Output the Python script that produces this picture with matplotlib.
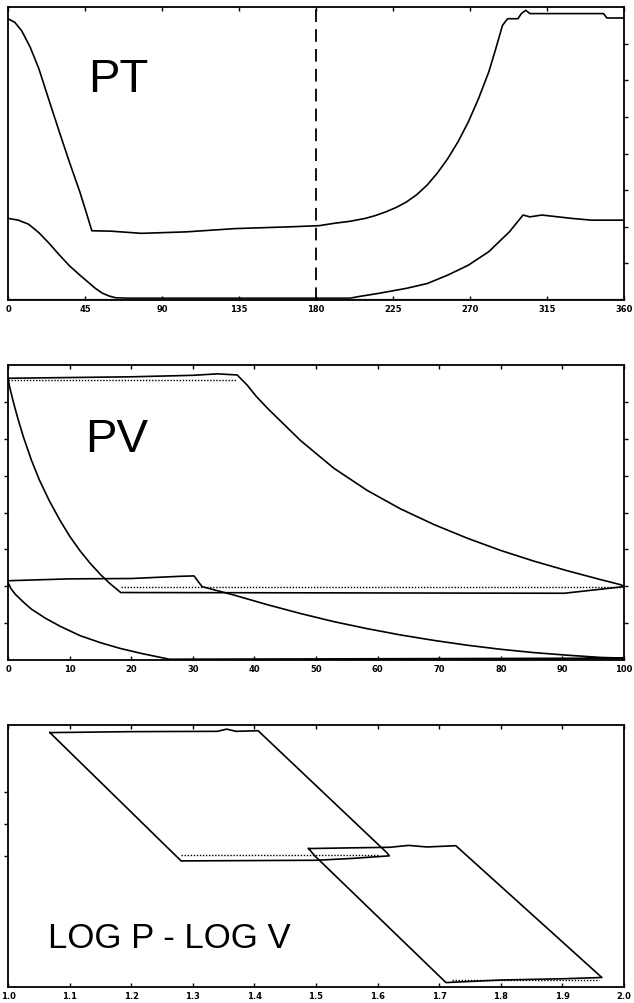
import matplotlib
matplotlib.use("Agg")
import matplotlib.pyplot as plt

# ---------------- data ----------------
# Panel 1: PT (crank angle vs value)
pt_ticks = [0, 45, 90, 135, 180, 225, 270, 315, 360]
pt_hi_x = [0, 4, 8, 13, 18, 24, 30, 36, 42, 46, 49, 60, 78, 104, 133, 166, 182, 190, 200, 209, 215, 221,
           227, 233, 239, 245, 251, 257, 263, 269, 275, 281, 285, 289, 292, 298, 300, 302.6, 305, 348, 350, 360]
pt_hi_y = [7.68, 7.58, 7.35, 6.9, 6.32, 5.45, 4.59, 3.75, 2.95, 2.35, 1.89, 1.88, 1.82, 1.86, 1.95, 2.0, 2.03,
           2.09, 2.15, 2.23, 2.31, 2.41, 2.53, 2.68, 2.88, 3.14, 3.47, 3.86, 4.32, 4.86, 5.5, 6.23, 6.85, 7.5,
           7.68, 7.68, 7.82, 7.91, 7.82, 7.82, 7.70, 7.70]
pt_lo_x = [0, 6, 12, 18, 24, 30, 36, 42, 47, 51, 55, 59, 63, 70, 200, 204.5, 216.5, 233, 245, 257, 269, 281,
           293, 301, 305, 312, 329, 341, 360]
pt_lo_y = [2.23, 2.18, 2.07, 1.84, 1.55, 1.23, 0.93, 0.68, 0.48, 0.32, 0.19, 0.11, 0.06, 0.05, 0.05, 0.09,
           0.18, 0.32, 0.45, 0.68, 0.95, 1.32, 1.86, 2.32, 2.27, 2.32, 2.23, 2.18, 2.18]
pt_marker_angle = 180

# Panel 2: PV
pv_ticks = [0, 10, 20, 30, 40, 50, 60, 70, 80, 90, 100]
pv_hi_v = [0, 10, 20, 30, 34, 37.2, 38.8, 40.3, 42.1, 47.5, 52.9, 58.3, 63.7, 69.2, 74.6, 80.0, 85.4, 90.8,
           96.2, 99.5, 100, 90.3, 18.3, 16.5, 15.0, 13.3, 11.7, 10.0, 8.4, 6.7, 5.1, 3.8, 2.5, 1.6, 0.86,
           0.3, 0]
pv_hi_p = [7.64, 7.66, 7.68, 7.72, 7.76, 7.73, 7.46, 7.15, 6.83, 5.95, 5.2, 4.6, 4.1, 3.67, 3.30, 2.97,
           2.68, 2.42, 2.18, 2.04, 1.99, 1.81, 1.83, 2.08, 2.32, 2.63, 2.96, 3.36, 3.80, 4.32, 4.88, 5.42,
           6.05, 6.55, 7.0, 7.38, 7.64]
pv_lo_v = [0, 10, 20, 28, 30.2, 31.5, 36.7, 42.1, 47.5, 52.9, 58.3, 63.7, 69.2, 74.6, 80.0, 85.4, 90.8,
           96.2, 100, 26.2, 21.6, 18.3, 15.0, 11.7, 8.4, 6.0, 3.8, 2.5, 1.2, 0.5, 0]
pv_lo_p = [2.15, 2.2, 2.21, 2.27, 2.28, 1.99, 1.76, 1.50, 1.26, 1.04, 0.85, 0.68, 0.53, 0.40, 0.29, 0.20,
           0.13, 0.07, 0.05, 0.02, 0.18, 0.31, 0.47, 0.66, 0.92, 1.14, 1.38, 1.57, 1.78, 1.93, 2.1]
pv_dot_top_v = [0, 37.2]
pv_dot_top_p = [7.6, 7.6]
pv_dot_mid_v = [18.3, 100]
pv_dot_mid_p = [1.99, 1.99]
pv_dot_bot_v = [26.2, 100]
pv_dot_bot_p = [0.03, 0.03]

# Panel 3: log P - log V
lg_ticks = [1.0, 1.1, 1.2, 1.3, 1.4, 1.5, 1.6, 1.7, 1.8, 1.9, 2.0]
lg_a_v = [1.068, 1.2, 1.34, 1.355, 1.37, 1.406, 1.615, 1.619, 1.56, 1.50, 1.281, 1.068]
lg_a_p = [5.89, 5.92, 5.93, 6.0, 5.93, 5.95, 2.1, 2.0, 1.92, 1.86, 1.84, 5.89]
lg_b_v = [1.488, 1.55, 1.62, 1.65, 1.68, 1.727, 1.964, 1.90, 1.80, 1.711, 1.498, 1.488]
lg_b_p = [2.23, 2.25, 2.27, 2.33, 2.28, 2.32, -1.84, -1.88, -1.92, -2.0, 2.0, 2.23]
lg_dot_a_v = [1.281, 1.60]
lg_dot_a_p = [2.03, 2.03]
lg_dot_b_v = [1.72, 1.96]
lg_dot_b_p = [-1.93, -1.93]

# ---------------- figure ----------------
fig = plt.figure(figsize=(6.34, 10.04), dpi=100)
plt.rcParams['font.family'] = ['Liberation Sans', 'DejaVu Sans']

L, W = 8 / 634, 616 / 634
ax1 = fig.add_axes([L, 1 - 301 / 1004, W, 293 / 1004])
ax2 = fig.add_axes([L, 1 - 661 / 1004, W, 295 / 1004])
ax3 = fig.add_axes([L, 1 - 988 / 1004, W, 262 / 1004])

lw = 1.2
col = 'black'

def style(ax):
    for s in ax.spines.values():
        s.set_linewidth(1.3)
    ax.tick_params(axis='x', which='both', direction='in', length=3, width=1,
                   top=True, bottom=True, labelsize=6, pad=3)
    for t in ax.get_xticklabels():
        t.set_fontweight('bold')
        t.set_family(['DejaVu Sans'])

# Panel 1
ax1.plot(pt_hi_x, pt_hi_y, color=col, lw=lw)
ax1.plot(pt_lo_x, pt_lo_y, color=col, lw=lw)
ax1.plot([0, 360], [0.04, 0.04], color='0.45', lw=1.0)
ax1.axvline(pt_marker_angle, color=col, lw=1.3, ls=(0, (7, 4)))
ax1.set_xlim(0, 360)
ax1.set_ylim(0, 8)
ax1.set_xticks(pt_ticks)
ax1.set_xticklabels([str(t) for t in pt_ticks])
ax1.yaxis.tick_right()
ax1.set_yticks([1, 2, 3, 4, 5, 6, 7])
ax1.tick_params(axis='y', direction='out', length=3, width=1, labelright=False, labelleft=False)
ax1.text(0.13, 0.713, "PT", transform=ax1.transAxes, fontsize=34, ha='left', va='baseline')
style(ax1)

# Panel 2
ax2.plot(pv_hi_v, pv_hi_p, color=col, lw=lw)
ax2.plot(pv_lo_v, pv_lo_p, color=col, lw=lw)
for xv, yv in [(pv_dot_top_v, pv_dot_top_p), (pv_dot_mid_v, pv_dot_mid_p), (pv_dot_bot_v, pv_dot_bot_p)]:
    ax2.plot(xv, yv, color=col, lw=1.0, ls=(0, (1, 1.2)))
ax2.set_xlim(0, 100)
ax2.set_ylim(0, 8)
ax2.set_xticks(pv_ticks)
ax2.set_xticklabels([str(t) for t in pv_ticks])
ax2.set_yticks([1, 2, 3, 4, 5, 6, 7])
ax2.tick_params(axis='y', direction='out', length=3, width=1, labelleft=False, right=True)
ax2.text(0.125, 0.708, "PV", transform=ax2.transAxes, fontsize=34, ha='left', va='baseline')
style(ax2)

# Panel 3
ax3.plot(lg_a_v, lg_a_p, color=col, lw=lw)
ax3.plot(lg_b_v, lg_b_p, color=col, lw=lw)
for xv, yv in [(lg_dot_a_v, lg_dot_a_p), (lg_dot_b_v, lg_dot_b_p)]:
    ax3.plot(xv, yv, color=col, lw=1.0, ls=(0, (1, 1.2)))
ax3.set_xlim(1.0, 2.0)
ax3.set_ylim(-2.14, 6.13)
ax3.set_xticks(lg_ticks)
ax3.set_xticklabels([f"{t:.1f}" for t in lg_ticks])
ax3.set_yticks([2, 3, 4])
ax3.tick_params(axis='y', direction='out', length=3, width=1, labelleft=False)
ax3.text(0.065, 0.153, "LOG P - LOG V", transform=ax3.transAxes, fontsize=25, ha='left',
         va='baseline')
style(ax3)

fig.savefig("out.png", dpi=100)
